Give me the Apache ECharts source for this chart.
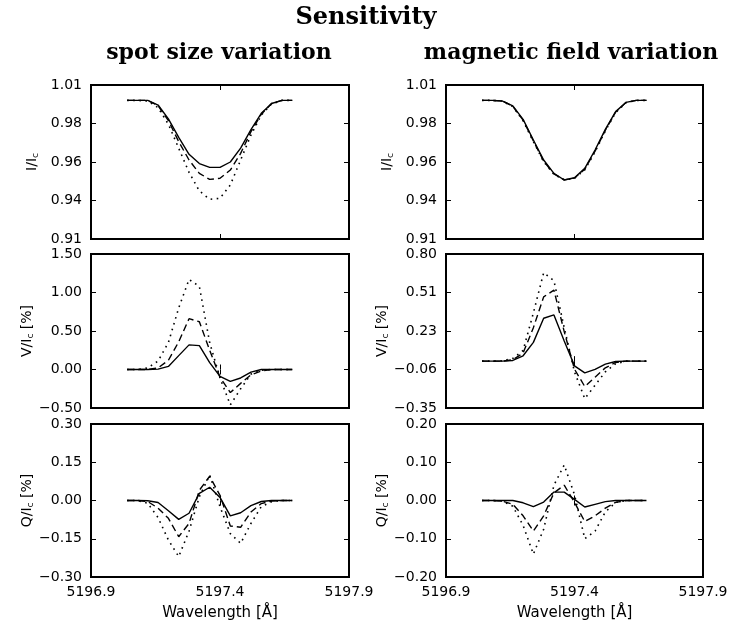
<!DOCTYPE html>
<html>
<head>
<meta charset="utf-8">
<script src="https://cdn.jsdelivr.net/npm/echarts@6/dist/echarts.min.js"></script>
<style>html,body{margin:0;padding:0;background:#fff}#c{width:733px;height:628px}</style>
</head>
<body>
<div id="c"></div>
<script>
// ---- data ----
const wavelength = [5197.04, 5197.08, 5197.12, 5197.16, 5197.20, 5197.24, 5197.28, 5197.32, 5197.36, 5197.40, 5197.44, 5197.48, 5197.52, 5197.56, 5197.60, 5197.64, 5197.68];

const spotI_solid  = [1.000, 1.000, 1.000, 0.997, 0.988, 0.976, 0.965, 0.959, 0.9565, 0.9565, 0.960, 0.969, 0.981, 0.9916, 0.998, 1.000, 1.000];
const spotI_dashed = [1.000, 1.000, 1.000, 0.9966, 0.9868, 0.9732, 0.9613, 0.9526, 0.9487, 0.9494, 0.9548, 0.9656, 0.9797, 0.991, 0.998, 1.000, 1.000];
const spotI_dotted = [1.000, 1.000, 0.9996, 0.9953, 0.9845, 0.9689, 0.9533, 0.9412, 0.9358, 0.9364, 0.9451, 0.9613, 0.9775, 0.9905, 0.9977, 1.000, 1.000];

const spotV_solid  = [0, 0, 0, 0.005, 0.04, 0.18, 0.32, 0.31, 0.09, -0.09, -0.155, -0.11, -0.035, 0, 0, 0, 0];
const spotV_dashed = [0, 0, 0, 0.02, 0.12, 0.36, 0.66, 0.62, 0.25, -0.10, -0.30, -0.18, -0.07, -0.02, 0, 0, 0];
const spotV_dotted = [0, 0, 0.02, 0.11, 0.35, 0.80, 1.17, 1.08, 0.35, -0.11, -0.46, -0.25, -0.06, -0.01, 0, 0, 0];

const spotQ_solid  = [0, 0, -0.001, -0.008, -0.04, -0.074, -0.05, 0.028, 0.052, 0.012, -0.06, -0.048, -0.02, -0.004, 0, 0, 0];
const spotQ_dashed = [0, 0, -0.004, -0.03, -0.07, -0.142, -0.09, 0.04, 0.095, 0.02, -0.10, -0.105, -0.045, -0.012, -0.002, 0, 0];
const spotQ_dotted = [0, 0, -0.011, -0.067, -0.155, -0.22, -0.12, 0.015, 0.10, -0.024, -0.13, -0.168, -0.09, -0.024, -0.005, 0, 0];

const fieldI_solid  = [1.000, 1.000, 0.9996, 0.9964, 0.9877, 0.9743, 0.9613, 0.9526, 0.9483, 0.9498, 0.9559, 0.9678, 0.9812, 0.9927, 0.9987, 1.000, 1.000];
const fieldI_dashed = [1.000, 1.000, 0.9996, 0.9962, 0.9872, 0.9737, 0.9606, 0.9522, 0.9484, 0.9496, 0.9553, 0.9671, 0.9806, 0.9924, 0.9986, 1.000, 1.000];
const fieldI_dotted = [1.000, 1.000, 0.9995, 0.9960, 0.9868, 0.9732, 0.9602, 0.9520, 0.9485, 0.9494, 0.9549, 0.9666, 0.9802, 0.9921, 0.9985, 1.000, 1.000];

const fieldV_solid  = [0, 0, 0, 0.005, 0.04, 0.14, 0.32, 0.345, 0.15, -0.035, -0.088, -0.062, -0.022, -0.003, 0, 0, 0];
const fieldV_dashed = [0, 0, 0, 0.01, 0.06, 0.25, 0.48, 0.53, 0.22, -0.06, -0.19, -0.12, -0.05, -0.01, 0, 0, 0];
const fieldV_dotted = [0, 0, 0.002, 0.02, 0.08, 0.36, 0.66, 0.60, 0.25, -0.08, -0.28, -0.18, -0.08, -0.02, 0, 0, 0];

const fieldQ_solid  = [0, 0, 0, 0, -0.006, -0.016, -0.004, 0.022, 0.022, 0.003, -0.017, -0.01, -0.003, 0, 0, 0, 0];
const fieldQ_dashed = [0, 0, -0.002, -0.01, -0.04, -0.08, -0.04, 0.02, 0.04, -0.005, -0.055, -0.04, -0.02, -0.005, 0, 0, 0];
const fieldQ_dotted = [0, 0, -0.002, -0.015, -0.065, -0.14, -0.075, 0.04, 0.093, 0.015, -0.10, -0.08, -0.03, -0.005, 0, 0, 0];

const xTicks = [5196.9, 5197.4, 5197.9];
const xTickLabels = ['5196.9', '5197.4', '5197.9'];

const iTicks = [0.91, 0.935, 0.96, 0.985, 1.01];
const iTickLabels = ['0.91', '0.94', '0.96', '0.98', '1.01'];
const spotVTicks = [-0.5, 0, 0.5, 1.0, 1.5];
const spotVTickLabels = ['\u22120.50', '0.00', '0.50', '1.00', '1.50'];
const fieldVTicks = [-0.35, -0.0625, 0.225, 0.5125, 0.80];
const fieldVTickLabels = ['\u22120.35', '\u22120.06', '0.23', '0.51', '0.80'];
const spotQTicks = [-0.30, -0.15, 0, 0.15, 0.30];
const spotQTickLabels = ['\u22120.30', '\u22120.15', '0.00', '0.15', '0.30'];
const fieldQTicks = [-0.20, -0.10, 0, 0.10, 0.20];
const fieldQTickLabels = ['\u22120.20', '\u22120.10', '0.00', '0.10', '0.20'];

const title = 'Sensitivity';
const colTitles = ['spot size variation', 'magnetic field variation'];
const yNames = ['I/I{s|c}', 'V/I{s|c} [%]', 'Q/I{s|c} [%]'];
const xName = 'Wavelength [\u00c5]';

// ---- layout ----
const colLeft = [91, 446], colWidth = [258, 257];
const rowTop = [85, 254, 424], rowHeight = [154, 154, 153];
const labelFont = 'DejaVu Sans';

const panels = [
  {col:0,row:0,ticks:iTicks,labels:iTickLabels,series:[spotI_solid,spotI_dashed,spotI_dotted]},
  {col:0,row:1,ticks:spotVTicks,labels:spotVTickLabels,series:[spotV_solid,spotV_dashed,spotV_dotted]},
  {col:0,row:2,ticks:spotQTicks,labels:spotQTickLabels,series:[spotQ_solid,spotQ_dashed,spotQ_dotted]},
  {col:1,row:0,ticks:iTicks,labels:iTickLabels,series:[fieldI_solid,fieldI_dashed,fieldI_dotted]},
  {col:1,row:1,ticks:fieldVTicks,labels:fieldVTickLabels,series:[fieldV_solid,fieldV_dashed,fieldV_dotted]},
  {col:1,row:2,ticks:fieldQTicks,labels:fieldQTickLabels,series:[fieldQ_solid,fieldQ_dashed,fieldQ_dotted]}
];

const lineStyles = [
  {type:'solid', width:1.4},
  {type:[7,4], width:1.4},
  {type:[1.6,4.5], width:1.6}
];

function lookup(ticks, labels) {
  return function (v) {
    for (let i = 0; i < ticks.length; i++) if (Math.abs(ticks[i] - v) < 1e-7) return labels[i];
    return '';
  };
}

const grid = [], xAxis = [], yAxis = [], series = [];
panels.forEach((p, gi) => {
  grid.push({left: colLeft[p.col], width: colWidth[p.col], top: rowTop[p.row], height: rowHeight[p.row],
    show: true, borderColor: '#000', borderWidth: 2, backgroundColor: 'transparent', containLabel: false});
  const tickCommon = {show:true, inside:true, length:5, lineStyle:{color:'#000', width:1}};
  xAxis.push({type:'value', gridIndex:gi, min:5196.9, max:5197.9, position:'bottom',
    axisLine:{show:false}, splitLine:{show:false},
    axisTick:Object.assign({customValues:xTicks}, tickCommon),
    axisLabel:{show:p.row===2, customValues:xTicks, formatter:lookup(xTicks, xTickLabels), color:'#000', fontFamily:labelFont, fontSize:14, margin:8},
    name: p.row===2 ? xName : '', nameLocation:'middle', nameGap:29,
    nameTextStyle:{color:'#000', fontFamily:labelFont, fontSize:15}
  });
  xAxis.push({type:'value', gridIndex:gi, min:5196.9, max:5197.9, position:'top',
    axisLine:{show:false}, splitLine:{show:false},
    axisTick:Object.assign({customValues:xTicks}, tickCommon),
    axisLabel:{show:false}
  });
  const mn = p.ticks[0], mx = p.ticks[p.ticks.length-1];
  yAxis.push({type:'value', gridIndex:gi, min:mn, max:mx, position:'left',
    axisLine:{show:false}, splitLine:{show:false},
    axisTick:Object.assign({customValues:p.ticks}, tickCommon),
    axisLabel:{customValues:p.ticks, formatter:lookup(p.ticks, p.labels), color:'#000', fontFamily:labelFont, fontSize:14, margin:9},
    name: yNames[p.row], nameLocation:'middle', nameGap:51,
    nameTextStyle:{color:'#000', fontFamily:labelFont, fontSize:14,
      rich:{s:{fontFamily:labelFont, fontSize:9, color:'#000', padding:[6,0,0,0]}}}
  });
  yAxis.push({type:'value', gridIndex:gi, min:mn, max:mx, position:'right',
    axisLine:{show:false}, splitLine:{show:false},
    axisTick:Object.assign({customValues:p.ticks}, tickCommon),
    axisLabel:{show:false}
  });
  p.series.forEach((vals, si) => {
    series.push({type:'line', xAxisIndex:gi*2, yAxisIndex:gi*2, showSymbol:false, symbol:'none',
      silent:true, animation:false, z: 3 - si,
      lineStyle:Object.assign({color:'#000'}, lineStyles[si]),
      data: wavelength.map((w, i) => [w, vals[i]])});
  });
});

const graphic = [
  {type:'text', x:366, y:18, style:{text:title, textAlign:'center', textVerticalAlign:'middle', font:'bold 24px "DejaVu Serif"', fill:'#000'}},
  {type:'text', x:219, y:53, style:{text:colTitles[0], textAlign:'center', textVerticalAlign:'middle', font:'bold 22px "DejaVu Serif"', fill:'#000'}},
  {type:'text', x:571, y:53, style:{text:colTitles[1], textAlign:'center', textVerticalAlign:'middle', font:'bold 22px "DejaVu Serif"', fill:'#000'}}
];

const chart = echarts.init(document.getElementById('c'), null, {renderer:'canvas'});
chart.setOption({animation:false, backgroundColor:'#fff', grid, xAxis, yAxis, series, graphic});
</script>
</body>
</html>
